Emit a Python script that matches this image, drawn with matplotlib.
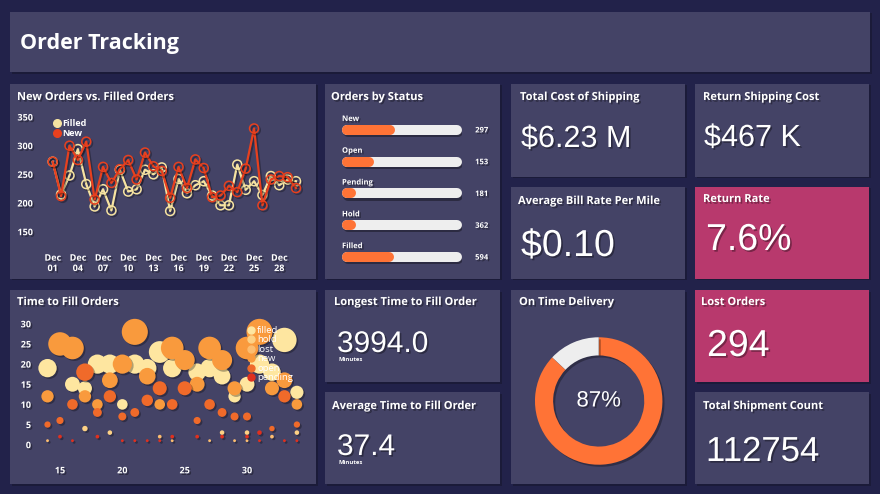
import numpy as np
import pandas as pd
import matplotlib
matplotlib.use('Agg')
from matplotlib import pyplot
from matplotlib.patches import Rectangle
from matplotlib.lines import Line2D
from matplotlib.dates import DateFormatter
import matplotlib.patheffects as pe

# ---- data -----------------------------------------------------------------
filled_orders = [272, 215, 248, 294, 233, 194, 224, 187, 258, 220,
                 224, 258, 250, 262, 186, 242, 217, 231, 238, 213,
                 196, 196, 267, 223, 238, 214, 247, 231, 241, 238]
new_orders = [272, 212, 300, 275, 307, 206, 263, 235, 259, 275,
              241, 288, 264, 256, 209, 263, 226, 276, 261, 210,
              213, 230, 219, 260, 330, 196, 241, 247, 245, 226]

status_names = ['New', 'Open', 'Pending', 'Hold', 'Filled']
status_counts = [297, 153, 181, 362, 594]
status_progress = [0.44, 0.27, 0.12, 0.12, 0.43]

fill_filled_x = [14, 16, 17, 18, 19, 20, 21, 22, 23, 24, 26, 27, 28, 29, 30, 31, 32, 33, 34]
fill_filled_y = [19, 15, 14, 20, 20, 10, 20, 19, 23, 19, 18, 19, 17, 12, 15, 20, 18, 26, 13]
fill_hold_x = [17, 19, 28, 30, 34]
fill_hold_y = [4, 3, 3, 3, 3]
fill_lost_x = [14, 23, 24, 27, 29, 30, 32]
fill_lost_y = [1, 2, 1, 1, 1, 1, 2]
fill_new_x = [14, 15, 16, 17, 18, 19, 20, 21, 22, 23, 24, 25, 26, 27, 28, 29, 30, 31, 32, 33, 34]
fill_new_y = [12, 25, 24, 12, 10, 16, 20, 28, 17, 10, 24, 21, 15, 24, 21, 14, 24, 28, 14, 16, 10]
fill_open_x = [14, 15, 16, 17, 18, 19, 20, 21, 22, 23, 24, 25, 26, 27, 28, 29, 30, 32, 33, 34]
fill_open_y = [5, 6, 10, 18, 8, 12, 7, 8, 11, 14, 10, 14, 6, 10, 8, 7, 7, 4, 12, 5]
fill_pending_x = [15, 16, 18, 20, 21, 22, 23, 24, 26, 28, 30, 31, 31, 33, 34]
fill_pending_y = [2, 1, 2, 1, 1, 1, 1, 2, 2, 2, 2, 3, 1, 1, 1]

on_time_pct = 87
kpi_total_cost = '$6.23 M'
kpi_return_cost = '$467 K'
kpi_bill_rate = '$0.10'
kpi_return_rate = '7.6%'
kpi_longest = '3994.0'
kpi_average = '37.4'
kpi_lost = '294'
kpi_shipments = '112754'

# ---- style ----------------------------------------------------------------
W, H = 880, 494
BG = '#22224a'
PANEL = '#444366'
PINK = '#b8396d'
ORANGE = '#ff7336'
TRACK = '#eeeeee'
C_FILLED = '#f6e3a1'
C_NEW = '#e8401e'
BUBBLE_COLORS = {'filled': '#fee6a0', 'hold': '#fdd185', 'lost': '#fcbd70',
                 'new': '#f99a3d', 'open': '#f06a2a', 'pending': '#e0301e'}
TFONT = 'Open Sans'
VFONT = 'Liberation Sans'
SHADOW = [pe.withSimplePatchShadow(offset=(1.2, -1.2), shadow_rgbFace='black', alpha=0.35)]
LINE_SHADOW = [pe.SimpleLineShadow(offset=(1.2, -1.2), shadow_color='black', alpha=0.3),
               pe.Normal()]


def frect(x0, y0, x1, y1):
    return [x0 / W, 1 - y1 / H, (x1 - x0) / W, (y1 - y0) / H]


def fxy(x, y):
    return x / W, 1 - y / H


fig = pyplot.figure(figsize=(W / 100, H / 100), dpi=100, facecolor=BG)


def panel(x0, y0, x1, y1, color=PANEL):
    fig.add_artist(Rectangle(fxy(x0 + 1.5, y1 + 1.5), (x1 - x0) / W, (y1 - y0) / H,
                             transform=fig.transFigure, color='#17172f', alpha=0.6,
                             lw=0, zorder=-2))
    fig.add_artist(Rectangle(fxy(x0, y1), (x1 - x0) / W, (y1 - y0) / H,
                             transform=fig.transFigure, color=color, lw=0, zorder=-1))


def title(x, y, s, size=8):
    fig.text(*fxy(x, y), s, color='white', fontsize=size, fontweight='bold',
             family=TFONT, va='baseline', ha='left', path_effects=SHADOW)


def value(x, y, s, size=22):
    fig.text(*fxy(x, y), s, color='white', fontsize=size, family=VFONT,
             va='baseline', ha='left', path_effects=SHADOW)


def minutes(x, y):
    fig.text(*fxy(x, y), 'Minutes', color='white', fontsize=4.2, fontweight='bold',
             family=TFONT, va='center', ha='left')


def style_ticks(ax, xpad, ypad):
    ax.tick_params(length=0, colors='white', labelsize=6.5)
    ax.tick_params(axis='x', pad=xpad)
    ax.tick_params(axis='y', pad=ypad)
    for lab in ax.get_xticklabels() + ax.get_yticklabels():
        lab.set_fontweight('bold')
        lab.set_family(TFONT)
        lab.set_path_effects(SHADOW)
    for sp in ax.spines.values():
        sp.set_visible(False)
    ax.patch.set_visible(False)


# ---- panels ---------------------------------------------------------------
panel(10, 12, 870, 72)
panel(10, 84, 316, 279)
panel(325, 84, 500, 279)
panel(511, 84, 685, 177)
panel(695, 84, 869, 177)
panel(511, 187, 685, 279)
panel(695, 187, 869, 279, PINK)
panel(10, 290, 316, 484)
panel(325, 290, 500, 382)
panel(325, 392, 500, 484)
panel(511, 290, 685, 484)
panel(695, 290, 869, 382, PINK)
panel(695, 392, 869, 484)

fig.text(*fxy(20, 49), 'Order Tracking', color='white', fontsize=15.5,
         fontweight='bold', family=TFONT, va='baseline', ha='left')

# ---- line chart -----------------------------------------------------------
title(17, 100, 'New Orders vs. Filled Orders')
days = pd.date_range('2020-12-01', periods=len(filled_orders), freq='D')
ax = fig.add_axes(frect(42, 108, 303, 242))
ax.plot(days, filled_orders, color=C_FILLED, lw=1.6, marker='o', ms=6.5,
        mfc='none', mew=1.1, path_effects=LINE_SHADOW)
ax.plot(days, new_orders, color=C_NEW, lw=1.6, marker='o', ms=6.5,
        mfc='none', mew=1.1, path_effects=LINE_SHADOW)
ax.set_xlim(days[0] - pd.Timedelta(hours=30.6), days[-1] + pd.Timedelta(hours=20))
ax.set_ylim(132, 365.7)
ax.set_yticks([150, 200, 250, 300, 350])
ax.set_xticks(days[::3])
ax.xaxis.set_major_formatter(DateFormatter('%b\n%d'))
style_ticks(ax, 8.4, 6.5)
handles = [Line2D([], [], ls='none', marker='o', ms=5.5, color=C_FILLED),
           Line2D([], [], ls='none', marker='o', ms=5.5, color=C_NEW)]
leg = ax.legend(handles, ['Filled', 'New'], loc='upper left',
                bbox_to_anchor=fxy(54, 119), bbox_transform=fig.transFigure,
                frameon=False, handlelength=0.6, handletextpad=0.3,
                labelspacing=0.15, borderaxespad=0, borderpad=0,
                prop={'family': TFONT, 'weight': 'bold', 'size': 6.5},
                labelcolor='white')

# ---- orders by status -----------------------------------------------------
title(331, 100, 'Orders by Status')
axs = fig.add_axes(frect(342, 114, 462, 273))
axs.set_xlim(0, 1)
axs.set_ylim(len(status_names) - 0.5, -0.5)
axs.axis('off')
cap = 5 / 120
lw_pt = 10 * 0.72
bar_fx = [pe.SimpleLineShadow(offset=(1, -1.5), shadow_color='black', alpha=0.35), pe.Normal()]
for i, (name, cnt, prog) in enumerate(zip(status_names, status_counts, status_progress)):
    axs.plot([cap, 1 - cap], [i, i], color=TRACK, lw=lw_pt, solid_capstyle='round',
             path_effects=bar_fx)
    axs.plot([cap, max(prog - cap, cap + 0.03)], [i, i], color=ORANGE, lw=lw_pt,
             solid_capstyle='round')
    axs.text(0, i - 0.36, name, color='white', fontsize=5.5, fontweight='bold',
             family=TFONT, va='center', ha='left', path_effects=SHADOW)
    axs.text(1.164, i, str(cnt), color='white', fontsize=5.5, fontweight='bold',
             family=TFONT, va='center', ha='center', path_effects=SHADOW)

# ---- KPI tiles ------------------------------------------------------------
title(520, 100, 'Total Cost of Shipping')
value(521, 147, kpi_total_cost, 22)
title(703, 100, 'Return Shipping Cost')
value(704, 146, kpi_return_cost, 22)
title(518, 204, 'Average Bill Rate Per Mile')
value(521, 256, kpi_bill_rate, 27)
title(703, 202, 'Return Rate')
value(706, 250, kpi_return_rate, 27)
title(334, 305, 'Longest Time to Fill Order')
value(337, 352, kpi_longest, 21.5)
minutes(338, 359.5)
title(332, 409, 'Average Time to Fill Order')
value(337, 455, kpi_average, 21.5)
minutes(338, 462.5)
title(701, 305, 'Lost Orders')
value(707, 356, kpi_lost, 27)
title(703, 409, 'Total Shipment Count')
value(706, 461, kpi_shipments, 25)

# ---- on time delivery donut -----------------------------------------------
title(519, 305, 'On Time Delivery')
axd = fig.add_axes(frect(533.7, 336, 663.7, 466))
wedges, _ = axd.pie([on_time_pct, 100 - on_time_pct], colors=[ORANGE, TRACK],
                    startangle=90, counterclock=False, radius=1,
                    wedgeprops=dict(width=0.285, edgecolor='none'))
for w in wedges:
    w.set_path_effects([pe.SimplePatchShadow(offset=(1.5, -1.5), shadow_rgbFace='black',
                                             alpha=0.3), pe.Normal()])
axd.set_xlim(-1.02, 1.02)
axd.set_ylim(-1.02, 1.02)
axd.text(0, 0, '%d%%' % on_time_pct, color='white', fontsize=16, family=VFONT,
         ha='center', va='center', path_effects=SHADOW)

# ---- bubble chart ---------------------------------------------------------
title(17, 305, 'Time to Fill Orders')
axb = fig.add_axes(frect(38, 312, 307, 458))
series = [('filled', fill_filled_x, fill_filled_y),
          ('hold', fill_hold_x, fill_hold_y),
          ('lost', fill_lost_x, fill_lost_y),
          ('new', fill_new_x, fill_new_y),
          ('open', fill_open_x, fill_open_y),
          ('pending', fill_pending_x, fill_pending_y)]
bub_fx = [pe.SimplePatchShadow(offset=(1.2, -1.2), shadow_rgbFace='black', alpha=0.3),
          pe.Normal()]
for name, xs, ys in series:
    ys = np.array(ys, dtype=float)
    diam_px = 2 * (1.0 + 0.43 * ys)
    sc = axb.scatter(xs, ys, s=(diam_px * 0.72) ** 2, color=BUBBLE_COLORS[name],
                     edgecolors='none', label=name, zorder=2)
    sc.set_path_effects(bub_fx)
axb.set_xlim(13.236, 34.81)
axb.set_ylim(-3.3, 32.93)
axb.set_xticks([15, 20, 25, 30])
axb.set_yticks([0, 5, 10, 15, 20, 25, 30])
style_ticks(axb, 6, 5)
bh = [Line2D([], [], ls='none', marker='o', ms=5, color=BUBBLE_COLORS[n]) for n, _, _ in series]
axb.legend(bh, [n for n, _, _ in series], loc='upper left',
           bbox_to_anchor=fxy(249, 326), bbox_transform=fig.transFigure,
           frameon=False, handlelength=0.5, handletextpad=0.35,
           labelspacing=0.05, borderaxespad=0, borderpad=0,
           prop={'family': TFONT, 'size': 6.8}, labelcolor='white')

fig.savefig('out.png', dpi=100, facecolor=BG)
